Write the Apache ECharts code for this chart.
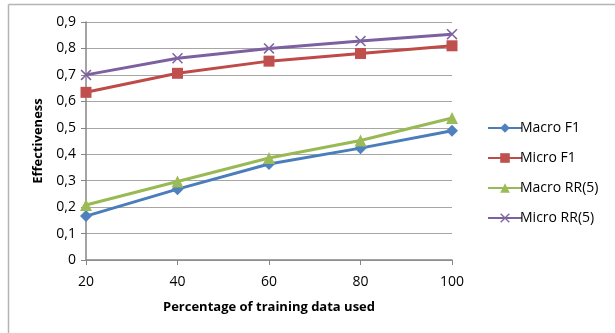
<!DOCTYPE html>
<html><head><meta charset="utf-8">
<script src="https://cdn.jsdelivr.net/npm/echarts@6/dist/echarts.min.js"></script>
<style>html,body{margin:0;padding:0;background:#fff}#c{width:615px;height:333px}</style>
</head><body><div id="c"></div>
<script>
var xValues = [20, 40, 60, 80, 100];
var macroF1 = [0.166, 0.268, 0.363, 0.423, 0.489];
var microF1 = [0.634, 0.706, 0.752, 0.781, 0.810];
var macroRR5 = [0.208, 0.297, 0.386, 0.452, 0.537];
var microRR5 = [0.700, 0.763, 0.800, 0.828, 0.854];
var seriesNames = ['Macro F1', 'Micro F1', 'Macro RR(5)', 'Micro RR(5)'];

function pairs(arr){ return xValues.map(function(x,i){ return [x, arr[i]]; }); }
var xPath = 'path://M0,1L1,0L5,4L9,0L10,1L6,5L10,9L9,10L5,6L1,10L0,9L4,5Z';
var font = 'Open Sans';
var chart = echarts.init(document.getElementById('c'));
function mk(name, data, lineColor, markColor, symbol, size){
  return {name:name, type:'line', data:pairs(data), symbol:symbol, symbolSize:size,
    lineStyle:{color:lineColor, width:3}, itemStyle:{color:markColor}, emphasis:{disabled:true}, animation:false};
}
chart.setOption({
  animation:false,
  textStyle:{fontFamily:font},
  graphic:[
    {type:'line', shape:{x1:8.5,y1:4.5,x2:615,y2:4.5}, style:{stroke:'#b4b4b4', lineWidth:1.5}},
    {type:'line', shape:{x1:8.5,y1:4.5,x2:8.5,y2:333}, style:{stroke:'#b4b4b4', lineWidth:1.5}}
  ],
  grid:{left:86, right:163, top:22, bottom:73},
  xAxis:{type:'value', min:20, max:100, interval:20,
    name:'Percentage of training data used', nameLocation:'middle', nameGap:41,
    nameTextStyle:{fontFamily:font, fontWeight:'bold', fontSize:13, color:'#000'},
    axisLine:{lineStyle:{color:'#868686', width:1.5}},
    axisTick:{show:true, length:5, lineStyle:{color:'#868686'}},
    axisLabel:{color:'#000', fontSize:14, margin:15},
    splitLine:{show:false}},
  yAxis:{type:'value', min:0, max:0.9, interval:0.1,
    name:'Effectiveness', nameLocation:'middle', nameGap:41,
    nameTextStyle:{fontFamily:font, fontWeight:'bold', fontSize:13, color:'#000'},
    axisLine:{show:true, lineStyle:{color:'#868686', width:1.5}},
    axisTick:{show:true, length:5, lineStyle:{color:'#868686'}},
    axisLabel:{color:'#000', fontSize:14, margin:10, formatter:function(v){ return (Math.round(v*10)/10).toString().replace('.', ','); }},
    splitLine:{lineStyle:{color:'#a6a6a6', width:1.2}}},
  legend:{orient:'vertical', left:482, top:116, itemWidth:34, itemHeight:12, itemGap:16,
    textStyle:{fontFamily:font, fontSize:14, color:'#000', padding:[0,0,0,-7]},
    data:seriesNames},
  series:[
    mk(seriesNames[0], macroF1, '#4a7ebb', '#4f81bd', 'diamond', 12),
    mk(seriesNames[1], microF1, '#be4b48', '#c0504d', 'rect', 11),
    mk(seriesNames[2], macroRR5, '#98b954', '#9bbb59', 'triangle', 12),
    mk(seriesNames[3], microRR5, '#7d60a0', '#8064a2', xPath, 11)
  ]
});
</script></body></html>
